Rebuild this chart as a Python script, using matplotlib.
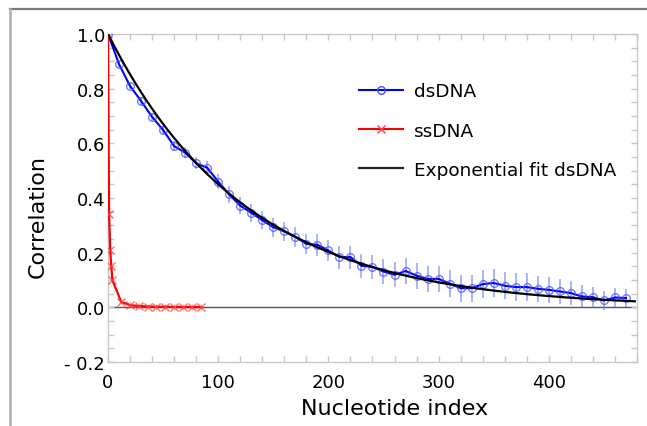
import numpy as np
import matplotlib
matplotlib.use("Agg")
import matplotlib.pyplot as plt
from matplotlib.lines import Line2D

# dsDNA correlation vs nucleotide index (every 10 nucleotides)
ds_index = [0, 10, 20, 30, 40, 50, 60, 70, 80, 90,
            100, 110, 120, 130, 140, 150, 160, 170, 180, 190,
            200, 210, 220, 230, 240, 250, 260, 270, 280, 290,
            300, 310, 320, 330, 340, 350, 360, 370, 380, 390,
            400, 410, 420, 430, 440, 450, 460, 470]
ds_corr = [1.000, 0.890, 0.810, 0.755, 0.697, 0.649, 0.590, 0.566, 0.527, 0.511,
           0.460, 0.413, 0.372, 0.346, 0.319, 0.293, 0.278, 0.258, 0.232, 0.229,
           0.208, 0.184, 0.184, 0.152, 0.148, 0.131, 0.119, 0.133, 0.116, 0.104,
           0.104, 0.087, 0.070, 0.070, 0.085, 0.089, 0.079, 0.074, 0.074, 0.068,
           0.064, 0.058, 0.052, 0.040, 0.037, 0.025, 0.036, 0.034]
ds_err = [0.000, 0.010, 0.012, 0.014, 0.015, 0.016, 0.018, 0.020, 0.022, 0.025,
          0.028, 0.030, 0.030, 0.032, 0.032, 0.034, 0.035, 0.036, 0.038, 0.040,
          0.040, 0.042, 0.042, 0.044, 0.045, 0.045, 0.046, 0.048, 0.048, 0.048,
          0.048, 0.050, 0.050, 0.050, 0.050, 0.050, 0.050, 0.050, 0.050, 0.048,
          0.048, 0.046, 0.044, 0.040, 0.038, 0.036, 0.034, 0.032]

# ssDNA correlation
ss_index = [0, 1, 2, 3, 4, 12, 20, 28, 36, 44, 52, 60, 68, 76, 84]
ss_corr = [1.000, 0.340, 0.210, 0.150, 0.100, 0.020, 0.008, 0.005,
           0.003, 0.002, 0.002, 0.001, 0.001, 0.001, 0.001]
ss_err = [0.000, 0.010, 0.010, 0.010, 0.010, 0.008, 0.010, 0.010,
          0.010, 0.010, 0.010, 0.010, 0.010, 0.010, 0.010]

x_ticks = [0, 100, 200, 300, 400]
x_tick_labels = ["0", "100", "200", "300", "400"]
y_ticks = [-0.2, 0.0, 0.2, 0.4, 0.6, 0.8, 1.0]
y_tick_labels = ["- 0.2", "0.0", "0.2", "0.4", "0.6", "0.8", "1.0"]

# Exponential fit C(n) = exp(-n / L) to the dsDNA data (least squares over L)
xd = np.asarray(ds_index, float)
yd = np.asarray(ds_corr, float)
lengths = np.linspace(40, 300, 5201)
sse = [np.sum((yd - np.exp(-xd / L)) ** 2) for L in lengths]
L_fit = lengths[int(np.argmin(sse))]
x_fit = np.linspace(0, 478, 400)
y_fit = np.exp(-x_fit / L_fit)

plt.rcParams["font.family"] = ["DejaVu Sans"]
fig = plt.figure(figsize=(6.47, 4.27), dpi=100)
ax = fig.add_axes([0.1669, 0.1499, 0.8176, 0.7681])

spine_col = "#c8c8c8"

# zero reference line
ax.axhline(0.0, color="#555555", lw=1.0, zorder=1)

# dsDNA
ax.errorbar(ds_index, ds_corr, yerr=ds_err, fmt="none", ecolor="#5a6cff",
            alpha=0.6, elinewidth=1.2, zorder=2)
ax.plot(ds_index, ds_corr, "-", color="#0000ff", lw=1.5, zorder=3)
ax.plot(ds_index, ds_corr, "o", mfc="none", mec="#4455ff", ms=5.5,
        mew=1.0, alpha=0.75, zorder=3)

# ssDNA
ax.errorbar(ss_index, ss_corr, yerr=ss_err, fmt="none", ecolor="#ff6060",
            alpha=0.6, elinewidth=1.0, zorder=2)
ax.plot(ss_index, ss_corr, "-", color="#ff0000", lw=1.6, zorder=3)
ax.plot(ss_index, ss_corr, "x", color="#ff4040", ms=5.5, mew=1.0,
        alpha=0.75, zorder=3)

# fit
ax.plot(x_fit, y_fit, "-", color="black", lw=1.6, zorder=4)

ax.set_xlim(0, 480)
ax.set_ylim(-0.2, 1.0)
ax.set_xticks(x_ticks)
ax.set_xticklabels(x_tick_labels)
ax.set_yticks(y_ticks)
ax.set_yticklabels(y_tick_labels)
ax.set_xticks(np.arange(0, 481, 20), minor=True)
ax.set_yticks(np.arange(-0.2, 1.001, 0.05), minor=True)

for s in ax.spines.values():
    s.set_color(spine_col)
    s.set_linewidth(1.0)
ax.tick_params(which="both", direction="in", top=True, right=True,
               color=spine_col, width=1.0)
ax.tick_params(which="major", length=4, labelsize=13)
ax.tick_params(which="minor", length=4)
ax.tick_params(axis="x", which="major", pad=8)
ax.tick_params(axis="y", which="major", pad=2)

ax.set_xlabel("Nucleotide index", fontsize=16)
ax.set_ylabel("Correlation", fontsize=16)
ax.xaxis.set_label_coords(0.541, -0.11)
ax.yaxis.set_label_coords(-0.113, 0.448)

handles = [
    Line2D([], [], color="#0000ff", lw=1.5, marker="o", mfc="none",
           mec="#4455ff", ms=5.5),
    Line2D([], [], color="#ff0000", lw=1.5, marker="x", mec="#ff4040", ms=5.5),
    Line2D([], [], color="#222222", lw=1.6),
]
ax.legend(handles, ["dsDNA", "ssDNA", "Exponential fit dsDNA"],
          loc="upper left", bbox_to_anchor=(0.46, 0.875), frameon=False,
          fontsize=13.3, handlelength=2.4, handletextpad=0.6,
          labelspacing=1.15, borderaxespad=0)

# outer frame lines along the top and left edges
fig.add_artist(Line2D([10 / 647, 1.0], [1 - 10 / 427, 1 - 10 / 427],
                      transform=fig.transFigure, color="#7a7a7a", lw=1.6))
fig.add_artist(Line2D([10 / 647, 10 / 647], [0.0, 1 - 10 / 427],
                      transform=fig.transFigure, color="#b0b0b0", lw=1.8))

fig.savefig("out.png", dpi=100)
